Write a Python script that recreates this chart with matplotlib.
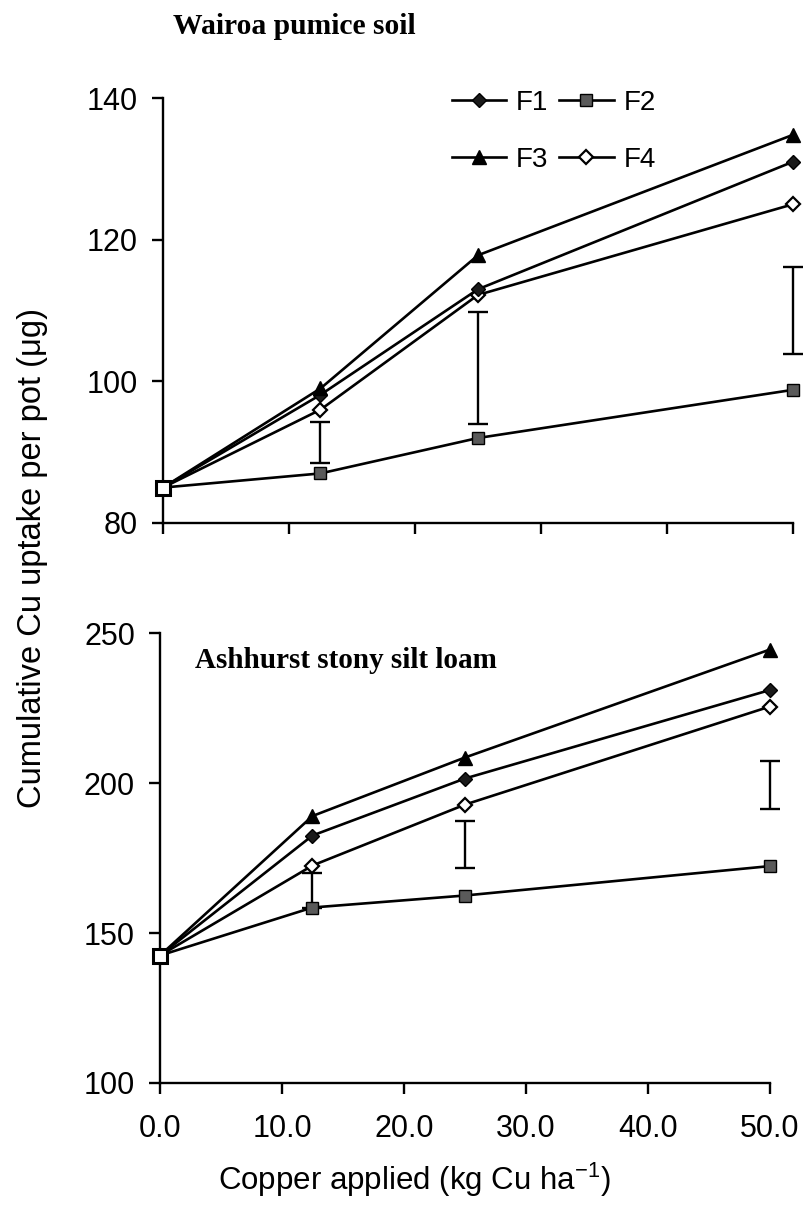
import matplotlib
matplotlib.use("Agg")

import matplotlib.pyplot as plt
import numpy as np

plt.rcParams["font.family"] = ["Liberation Sans", "DejaVu Sans"]
plt.rcParams["mathtext.fontset"] = "custom"
plt.rcParams["mathtext.rm"] = "Liberation Sans"
plt.rcParams["mathtext.it"] = "Liberation Sans:italic"

# Cu rates (kg Cu/ha)
cu_rate = [0.0, 12.5, 25.0, 50.0]

# Wairoa pumice soil, cumulative uptake (ug/pot)
wairoa_f1 = [85, 98.1, 113.0, 131.0]
wairoa_f2 = [85, 87.0, 92.0, 98.8]
wairoa_f3 = [85, 99.0, 117.8, 134.8]
wairoa_f4 = [85, 96.0, 112.2, 125.0]
wairoa_lsd_low = [88.4, 94.0, 103.9]
wairoa_lsd_high = [94.3, 109.8, 116.1]

# Ashhurst stony silt loam
ashhurst_f1 = [142.5, 182.5, 201.5, 231.0]
ashhurst_f2 = [142.5, 158.5, 162.5, 172.3]
ashhurst_f3 = [142.5, 189.0, 208.5, 244.5]
ashhurst_f4 = [142.5, 172.5, 192.8, 225.5]
ashhurst_lsd_low = [158.5, 171.7, 191.2]
ashhurst_lsd_high = [170.0, 187.5, 207.2]

lsd_rate = [12.5, 25.0, 50.0]

x_ticks = [0, 10, 20, 30, 40, 50]
x_ticklabels = ["0.0", "10.0", "20.0", "30.0", "40.0", "50.0"]

STYLES = {
    "F1": dict(marker="D", markersize=7, markerfacecolor="#1a1a1a", markeredgecolor="black"),
    "F2": dict(marker="s", markersize=9, markerfacecolor="#5a5a5a", markeredgecolor="black"),
    "F3": dict(marker="^", markersize=10, markerfacecolor="black", markeredgecolor="black"),
    "F4": dict(marker="D", markersize=7, markerfacecolor="white", markeredgecolor="black",
               markeredgewidth=1.6),
}


def draw_panel(ax, series, lsd_low, lsd_high, ylim, yticks, show_xlabels):
    lo = np.array(lsd_low)
    hi = np.array(lsd_high)
    ax.errorbar(lsd_rate, (lo + hi) / 2, yerr=(hi - lo) / 2, fmt="none", ecolor="black",
                elinewidth=1.7, capsize=7, capthick=1.7, zorder=2, clip_on=False)

    handles = {}
    for name, values in series.items():
        (h,) = ax.plot(cu_rate, values, color="black", linewidth=1.9, markevery=slice(1, None),
                       clip_on=False, zorder=3, label=name, **STYLES[name])
        handles[name] = h

    # shared starting point at zero Cu
    ax.plot(cu_rate[0], series["F2"][0], marker="s", markersize=9.5, markerfacecolor="white",
            markeredgecolor="black", markeredgewidth=2.2, clip_on=False, zorder=4)

    ax.set_xlim(0, 50)
    ax.set_ylim(*ylim)
    ax.set_yticks(yticks)
    ax.set_xticks(x_ticks)
    if show_xlabels:
        ax.set_xticklabels(x_ticklabels)
    else:
        ax.set_xticklabels([])
    for side in ("top", "right"):
        ax.spines[side].set_visible(False)
    for side in ("left", "bottom"):
        ax.spines[side].set_linewidth(1.7)
    ax.tick_params(axis="both", direction="out", length=8, width=1.7, labelsize=22)
    ax.tick_params(axis="y", pad=10)
    ax.tick_params(axis="x", pad=14)
    return handles


fig = plt.figure(figsize=(8.04, 12.05), dpi=100)

ax_top = fig.add_axes([163 / 804, 1 - 523 / 1205, 630 / 804, 425 / 1205])
h = draw_panel(ax_top,
               {"F2": wairoa_f2, "F4": wairoa_f4, "F1": wairoa_f1, "F3": wairoa_f3},
               wairoa_lsd_low, wairoa_lsd_high, (80, 140), [80, 100, 120, 140], False)
ax_top.legend([h["F1"], h["F3"], h["F2"], h["F4"]], ["F1", "F3", "F2", "F4"], ncol=2,
              loc="upper left", bbox_to_anchor=(452 / 804, 1 - 90 / 1205),
              bbox_transform=fig.transFigure, frameon=False, fontsize=20, borderpad=0,
              borderaxespad=0, handlelength=1.95, handletextpad=0.35, columnspacing=0.4,
              labelspacing=1.12)

ax_bot = fig.add_axes([160 / 804, 1 - 1083 / 1205, 610 / 804, 450 / 1205])
draw_panel(ax_bot,
           {"F2": ashhurst_f2, "F4": ashhurst_f4, "F1": ashhurst_f1, "F3": ashhurst_f3},
           ashhurst_lsd_low, ashhurst_lsd_high, (100, 250), [100, 150, 200, 250], True)

fig.text(173 / 804, 1 - 27 / 1205, "Wairoa pumice soil", family="Liberation Serif",
         weight="bold", fontsize=21.3, ha="left", va="center")
fig.text(195 / 804, 1 - 660 / 1205, "Ashhurst stony silt loam", family="Liberation Serif",
         weight="bold", fontsize=21, ha="left", va="center")

fig.text(33 / 804, 1 - 558 / 1205, "Cumulative Cu uptake per pot (\u03bcg)", rotation=90,
         fontsize=23.5, ha="center", va="center")
fig.text(414 / 804, 1 - 1180 / 1205, "Copper applied (kg Cu ha$^{-1}$)", fontsize=22.5,
         ha="center", va="center")

fig.savefig("out.png", dpi=100)
